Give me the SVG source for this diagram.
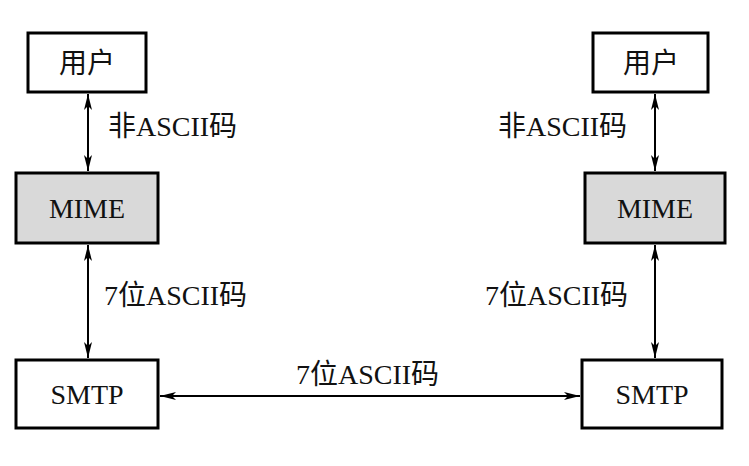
<svg xmlns="http://www.w3.org/2000/svg" width="749" height="466" viewBox="0 0 749 466">
<style>
.b{fill:#fff;stroke:#000;stroke-width:3}
.g{fill:#d9d9d9;stroke:#000;stroke-width:3}
.t{font-family:"Liberation Serif","Noto Sans CJK SC",serif;font-size:28px;fill:#111}
.c{text-anchor:middle}
.l{stroke:#000;stroke-width:2;fill:none;marker-start:url(#a);marker-end:url(#a)}
</style>
<defs><marker id="a" viewBox="0 0 16 8" refX="16" refY="4" markerWidth="16" markerHeight="8" markerUnits="userSpaceOnUse" orient="auto-start-reverse"><path d="M0,0 L16,4 L0,8 L4,4 Z" fill="#000"/></marker></defs>
<rect width="749" height="466" fill="#fff"/>
<g id="connectors">
<line class="l" x1="88" y1="94" x2="88" y2="171"/>
<line class="l" x1="88" y1="245" x2="88" y2="358"/>
<line class="l" x1="655" y1="94" x2="655" y2="171"/>
<line class="l" x1="655" y1="245" x2="655" y2="358"/>
<line class="l" x1="160" y1="396" x2="580" y2="396"/>
<text class="t" x="108" y="136">非ASCII码</text>
<text class="t" x="104" y="305">7位ASCII码</text>
<text class="t" x="498" y="136">非ASCII码</text>
<text class="t" x="485" y="305">7位ASCII码</text>
<text class="t" x="296" y="384">7位ASCII码</text>
</g>
<g id="user-l"><rect class="b" x="28" y="33" width="118" height="59"/><text class="t c" x="87" y="73">用户</text></g>
<g id="mime-l"><rect class="g" x="16" y="173" width="142" height="70"/><text class="t c" x="87" y="218">MIME</text></g>
<g id="smtp-l"><rect class="b" x="16" y="360" width="142" height="68"/><text class="t c" x="87" y="404">SMTP</text></g>
<g id="user-r"><rect class="b" x="593" y="33" width="115" height="59"/><text class="t c" x="651" y="73">用户</text></g>
<g id="mime-r"><rect class="g" x="585" y="173" width="140" height="70"/><text class="t c" x="655" y="218">MIME</text></g>
<g id="smtp-r"><rect class="b" x="582" y="360" width="140" height="68"/><text class="t c" x="652" y="404">SMTP</text></g>
</svg>
